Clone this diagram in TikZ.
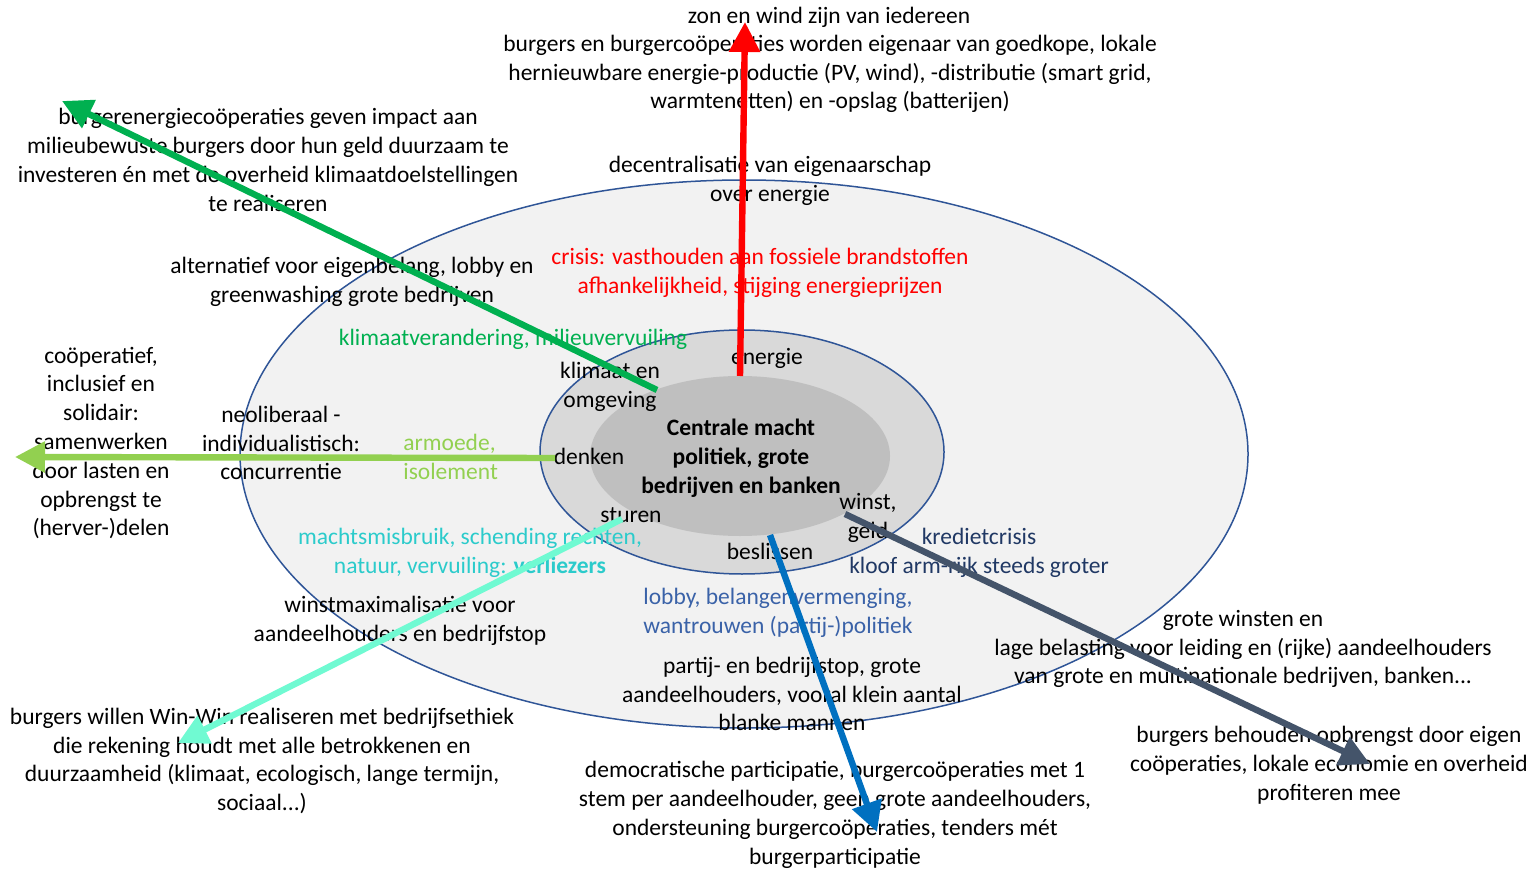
\documentclass[tikz,border=0pt]{standalone}
\usepackage{fontspec}
\setmainfont{Carlito}
\usetikzlibrary{arrows.meta}
\definecolor{ringblue}{HTML}{2F5597}
\definecolor{ringouter}{HTML}{F2F2F2}
\definecolor{ringmid}{HTML}{D9D9D9}
\definecolor{ringcore}{HTML}{BFBFBF}
\definecolor{darkgreen}{HTML}{00B050}
\definecolor{lightgreen}{HTML}{92D050}
\definecolor{aqua}{HTML}{70FAD2}
\definecolor{turq}{HTML}{2BCBCB}
\definecolor{arrowblue}{HTML}{0070C0}
\definecolor{slate}{HTML}{44546A}
\definecolor{navy}{HTML}{203864}
\definecolor{lobbyblue}{HTML}{3A62A8}
\begin{document}
\begin{tikzpicture}[x=0.5pt,y=-0.5pt,
    flow/.style={line width=3.2pt,-{Triangle[length=15pt,width=15pt]}}]
        \useasboundingbox (0,0) rectangle (1534,871);

        % rings
        \draw[ringblue,line width=0.75pt,fill=ringouter] (744,454) ellipse [x radius=252pt,y radius=137pt];
        \draw[ringblue,line width=0.75pt,fill=ringmid] (742,452) ellipse [x radius=101pt,y radius=61pt];
        \fill[ringcore] (740,456) ellipse [x radius=75pt,y radius=40pt];

        \begin{scope}[yshift=-1pt,every node/.style={align=center,inner sep=0pt,font=\fontsize{11.75}{14.4}\selectfont}]
          \node (zon)      at (829,15)  {zon en wind zijn van iedereen};
          \node (eigenaar) at (830,72)  {burgers en burgercoöperaties worden eigenaar van goedkope, lokale\\hernieuwbare energie-productie (PV, wind), -distributie (smart grid,\\warmtenetten) en -opslag (batterijen)};
          \node (impact)   at (268,158) {burgerenergiecoöperaties geven impact aan\\milieubewuste burgers door hun geld duurzaam te\\investeren én met de overheid klimaatdoelstellingen\\te realiseren};
          \node (decentr)  at (770,179) {decentralisatie van eigenaarschap\\over energie};
          \node (altern)   at (352,280) {alternatief voor eigenbelang, lobby en\\greenwashing grote bedrijven};
          \node[red] (crisis) at (760,271) {crisis: vasthouden aan fossiele brandstoffen\\afhankelijkheid,  stijging energieprijzen};
          \node[darkgreen] (klimaatver) at (513,337) {klimaatverandering, milieuvervuiling};
          \node (energie)  at (767,356) {energie};
          \node (klimaat)  at (610,385) {klimaat en\\omgeving};
          \node (coop)     at (101,441) {coöperatief,\\inclusief en\\solidair:\\samenwerken\\door lasten en\\opbrengst te\\(herver-)delen};
          \node (neolib)   at (281,441) {neoliberaal -\\individualistisch:\\concurrentie};
          \node[lightgreen,align=left,anchor=west] (armoede) at (403,455) {armoede,\\isolement};
          \node (denken)   at (589,454) {denken};
          \node[font=\fontsize{11.75}{14.4}\selectfont\bfseries] (centrale) at (741,456) {Centrale macht\\politiek, grote\\bedrijven en banken};
          \node (sturen)   at (631,513) {sturen};
          \node (winst)    at (868,516) {winst,\\geld};
          \node (beslissen) at (770,549) {beslissen};
          \node[turq] (misbruik) at (470,551) {machtsmisbruik, schending rechten,\\natuur, vervuiling: \textbf{verliezers}};
          \node[navy] (krediet) at (979,551) {kredietcrisis\\kloof arm-rijk steeds groter};
          \node[lobbyblue,align=left,anchor=west] (lobby) at (643,611) {lobby, belangenvermenging,\\wantrouwen (partij-)politiek};
          \node (winstmax) at (400,619) {winstmaximalisatie voor\\aandeelhouders en bedrijfstop};
          \node (belasting) at (1243,647) {grote winsten en\\lage belasting  voor leiding en (rijke) aandeelhouders\\van grote en multinationale bedrijven, banken...};
          \node (partij)   at (792,692) {partij- en bedrijfstop, grote\\aandeelhouders, vooral klein aantal\\blanke mannen};
          \node (winwin)   at (262,759) {burgers willen Win-Win realiseren met bedrijfsethiek\\die rekening houdt met alle betrokkenen en\\duurzaamheid (klimaat, ecologisch, lange termijn,\\sociaal...)};
          \node (behouden) at (1329,763) {burgers behouden opbrengst door eigen\\coöperaties, lokale economie en overheid\\profiteren mee};
          \node (democr)   at (835,813) {democratische participatie,  burgercoöperaties met 1\\stem per aandeelhouder, geen grote aandeelhouders,\\ondersteuning burgercoöperaties, tenders mét\\burgerparticipatie};
        \end{scope}

        % arrow ends
        \coordinate (energieA) at (740,376);
        \coordinate (energieB) at (745,22);
        \coordinate (klimaatA) at (657,390);
        \coordinate (klimaatB) at (62,101);
        \coordinate (denkenA)  at (555,458);
        \coordinate (denkenB)  at (15,457);
        \coordinate (sturenA)  at (622,519);
        \coordinate (sturenB)  at (178,743);
        \coordinate (beslisA)  at (770,535);
        \coordinate (beslisB)  at (877,832);
        \coordinate (winstA)   at (845,514);
        \coordinate (winstB)   at (1370,764);

        \draw[flow,red]        (energieA) -- (energieB);
        \draw[flow,darkgreen]  (klimaatA) -- (klimaatB);
        \draw[flow,lightgreen] (denkenA)  -- (denkenB);
        \draw[flow,aqua]       (sturenA)  -- (sturenB);
        \draw[flow,arrowblue]  (beslisA)  -- (beslisB);
        \draw[flow,slate]      (winstA)   -- (winstB);

      \end{tikzpicture}
\end{document}
